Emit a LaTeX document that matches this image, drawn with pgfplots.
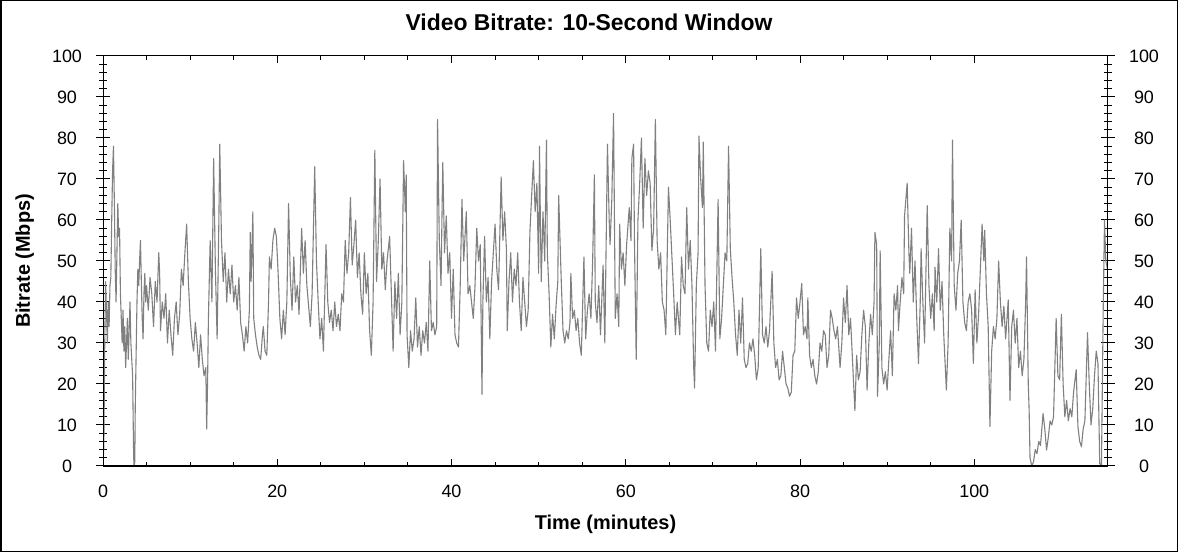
\documentclass[border=0pt]{standalone}
\usepackage{pgfplots}
\usepackage{pgfplotstable}
\pgfplotsset{compat=1.18}
\usepackage{fontspec}
\setmainfont{Liberation Sans}
\pgfplotstableread{
t v
0.00 0
0.10 5
0.20 30
0.30 45
0.40 38
0.50 30
0.60 40
0.70 34
0.80 44
0.90 46
1.00 60
1.10 72
1.20 78
1.30 65
1.40 48
1.50 40
1.60 52
1.70 64
1.80 56
1.90 58
2.00 42
2.10 36
2.20 30
2.30 38
2.40 28
2.50 34
2.60 24
2.70 30
2.80 36
2.90 26
3.00 33
3.10 40
3.20 30
3.30 26
3.40 22
3.50 5
3.55 0
3.65 1
3.70 14
3.80 27
3.90 40
4.00 48
4.10 44
4.20 50
4.30 55
4.40 45
4.50 36
4.60 31
4.70 42
4.80 47
4.90 40
5.00 44
5.20 38
5.40 46
5.60 42
5.80 34
6.00 45
6.20 40
6.40 52
6.50 47
6.60 33
6.80 40
7.00 36
7.20 42
7.40 30
7.60 38
7.80 32
8.00 27
8.20 36
8.40 40
8.60 32
8.80 37
9.00 48
9.20 44
9.40 52
9.60 59
9.80 45
10.00 36
10.20 31
10.40 28
10.60 35
10.80 30
11.00 24
11.20 32
11.40 26
11.60 22
11.80 24
11.90 9
12.00 20
12.10 36
12.30 55
12.50 40
12.70 75
12.90 48
13.10 31
13.30 60
13.40 78.5
13.60 55
13.80 45
14.00 52
14.20 40
14.40 48
14.60 42
14.80 49
15.00 40
15.20 44
15.40 38
15.60 46
15.80 35
16.00 32
16.20 28
16.40 34
16.60 30
16.80 38
16.90 57
17.00 45
17.20 62
17.30 36
17.50 32
17.70 29
17.90 27
18.10 26
18.30 32
18.40 34
18.60 28
18.80 27
19.00 40
19.10 51
19.30 48
19.50 55
19.70 58
19.90 56
20.10 47
20.30 36
20.50 31
20.70 38
20.90 32
21.10 40
21.30 64
21.50 46
21.70 38
21.90 51
22.10 40
22.30 44
22.50 37
22.80 58
23.00 47
23.20 55
23.40 44
23.60 39
23.80 34
24.00 42
24.30 73
24.50 50
24.70 40
24.90 31
25.10 36
25.30 28
25.60 54
25.80 40
26.00 35
26.20 38
26.40 33
26.60 40
26.80 34
27.00 37
27.20 33
27.40 42
27.60 40
27.80 55
28.00 47
28.20 52
28.40 65.5
28.60 49
28.80 54
29.00 60
29.20 46
29.40 52
29.60 42
29.80 37
30.00 52
30.20 42
30.40 47
30.60 33
30.80 27
31.00 40
31.20 77
31.40 45
31.60 55
31.80 70
32.00 48
32.20 52
32.40 43
32.60 50
32.90 56
33.10 42
33.30 28
33.50 45
33.70 36
33.90 47
34.10 32
34.30 40
34.50 74.5
34.70 62
34.80 71
34.90 32
35.10 24
35.30 33
35.50 28
35.70 31
35.90 41
36.10 29
36.30 34
36.50 27
36.70 33
36.90 30
37.10 35
37.30 28
37.50 50
37.70 33
37.90 35
38.10 32
38.30 34
38.40 84.5
38.60 55
38.80 44
38.90 60
39.00 74
39.20 52
39.40 61
39.60 47
39.80 52
40.00 36
40.20 48
40.40 32
40.60 30
40.80 29
41.00 44
41.20 65
41.40 50
41.70 62
41.90 42
42.10 44
42.30 40
42.50 36
42.70 44
42.90 58
43.10 50
43.30 54
43.50 17.5
43.60 40
43.80 56
44.00 40
44.20 46
44.40 31
44.60 45
44.80 52
45.00 59
45.20 48
45.40 43
45.70 70.5
45.90 55
46.10 62
46.30 53
46.40 33
46.60 45
46.80 52
47.00 40
47.20 48
47.40 44
47.60 52
47.80 40
48.00 33
48.20 46
48.40 40
48.60 34
48.80 38
49.00 57
49.20 66
49.40 74.5
49.60 62
49.80 69
50.00 47
50.10 78
50.20 60
50.30 45
50.50 62
50.70 50
50.90 79.5
51.00 52
51.20 42
51.40 29
51.60 37
51.80 31
52.00 39
52.20 45
52.30 66
52.50 52
52.60 45
52.80 33
53.00 30
53.20 33
53.40 31
53.60 35
53.70 47
53.90 36
54.10 38
54.30 33
54.50 36
54.70 30
54.90 27
55.20 51
55.40 31
55.60 38
55.80 42
56.00 36
56.20 50
56.40 71
56.50 40
56.70 35
56.90 44
57.10 32
57.40 49
57.60 30
57.90 78.5
58.10 60
58.20 54
58.40 65
58.60 86
58.80 36
59.00 42
59.20 34
59.30 59
59.50 48
59.70 52
59.90 44
60.10 54
60.40 63
60.60 55
60.70 75
60.90 78.5
61.00 55
61.20 26
61.40 60
61.60 69
61.80 80
62.00 58
62.20 75
62.40 66
62.60 72
62.80 69
63.00 52.5
63.20 58
63.40 84.5
63.60 55
63.80 48
64.00 52
64.20 40
64.40 38
64.60 32
64.90 68
65.10 60
65.30 51
65.50 42
65.70 32
65.90 40
66.20 32
66.40 51
66.60 44
66.80 42
67.00 63
67.20 48
67.40 55
67.60 44
67.80 24
67.90 19
68.10 44
68.30 52
68.40 80.5
68.60 70
68.80 63
68.90 79
69.10 44
69.30 30
69.50 28
69.70 38
69.90 34
70.10 40
70.30 28
70.60 65
70.80 31
71.00 36
71.20 44
71.40 52
71.60 50
71.80 78
72.00 53
72.20 46
72.40 40
72.60 32
72.80 27
73.00 38
73.20 30
73.40 41
73.60 26
73.80 24
74.00 25
74.20 30
74.40 28
74.60 31
74.80 27
75.00 21
75.20 24
75.50 53
75.70 32
75.90 30
76.10 34
76.30 29
76.50 33
76.80 47.5
77.00 30
77.20 24
77.40 26
77.60 21
77.80 22
78.00 28
78.20 24
78.40 20
78.60 19
78.80 17
79.00 18
79.20 27
79.40 28
79.60 41
79.80 36
80.00 40
80.20 44.5
80.40 32
80.60 34
80.80 31
80.90 41
81.10 27
81.30 24
81.50 26
81.70 22
81.90 20
82.10 23
82.30 30
82.50 28
82.70 33
82.90 32
83.10 24
83.30 27
83.50 38
83.70 36
83.90 33
84.10 31
84.30 34
84.60 24
84.80 30
85.00 41
85.20 35
85.40 44
85.60 32
85.80 36
86.00 27
86.30 13.5
86.50 27
86.70 21
86.90 23
87.10 32
87.30 38
87.50 34
87.70 18.5
87.90 30
88.10 37
88.30 32
88.50 40
88.60 57
88.80 54
88.90 17
89.10 30
89.20 52.5
89.40 24
89.60 20
89.80 23
90.00 18.5
90.20 26
90.40 33
90.60 22
90.80 42
91.00 38
91.20 44
91.30 33
91.50 40
91.70 46
91.90 42
92.00 61
92.30 69
92.50 52
92.60 47
92.80 58
93.00 40
93.20 50
93.40 36
93.60 25
93.80 40
93.90 53
94.10 40
94.30 30
94.60 63.5
94.80 44
95.00 36
95.20 42
95.40 33
95.50 48.5
95.70 40
95.90 53
96.10 38
96.30 45
96.50 32
96.80 18.5
97.00 30
97.20 58
97.40 50
97.50 79.5
97.70 44
97.90 38
98.10 47
98.30 50
98.50 60
98.70 40
98.90 35
99.10 33
99.30 40
99.50 42
99.70 38
99.90 25
100.10 43
100.30 30
100.50 37
100.70 48
100.90 59
101.10 50
101.20 57.5
101.40 42
101.60 34
101.80 9.6
102.00 28
102.20 34
102.40 31
102.60 36
102.80 50
103.00 40
103.20 34
103.40 39
103.60 31
103.90 40.5
104.10 16
104.30 34
104.50 38
104.70 30
104.90 36
105.10 24
105.30 28
105.50 22
105.70 26
105.90 40
106.00 51
106.20 20
106.30 13.5
106.40 2
106.60 0
106.80 1
107.00 4
107.20 3
107.40 6
107.60 5
107.90 12.8
108.10 9
108.30 3.9
108.50 7
108.70 11
108.90 10
109.10 12
109.40 36
109.60 22
109.80 21
110.00 37
110.20 20
110.40 12
110.60 16
110.80 11
111.00 14
111.20 12
111.40 18
111.70 23.5
111.90 9.6
112.10 6
112.30 4.7
112.50 9
112.70 11
113.00 32.5
113.20 20
113.40 10
113.60 14
113.80 22
114.00 28
114.20 25
114.40 0.6
114.60 0
114.80 38
114.95 60
115.10 50
115.30 48
}\bitrate
\begin{document}
\begin{tikzpicture}
\useasboundingbox (0,0) rectangle (1178bp,552bp);
\draw[line width=1.5bp] (0.75bp,0.75bp) rectangle (1177.25bp,551.25bp);
% main axis
\begin{axis}[
  at={(103bp,86bp)}, anchor=south west,
  scale only axis, width=1005bp, height=410bp,
  xmin=0, xmax=115.35, ymin=0, ymax=100,
  axis line style={line width=1bp},
  every tick/.style={line width=1bp, black},
  tick align=inside,
  major tick length=7bp, minor tick length=4bp,
  xtick={0,20,...,100}, minor x tick num=3,
  ytick={0,10,...,100}, minor y tick num=4,
  yticklabel pos=left,
  /pgf/number format/assume math mode=true,
  ticklabel style={font=\fontsize{18}{20}\selectfont},
  xticklabel style={anchor=center, yshift=-25.5bp},
  yticklabel style={anchor=center, xshift=-36bp},
  title={Video Bitrate: 10-Second Window},
  title style={font=\bfseries\fontsize{23}{26}\selectfont, at={(axis description cs:0.4836,1.0683)}, anchor=center},
  xlabel={Time (minutes)},
  xlabel style={font=\bfseries\fontsize{20}{22}\selectfont, at={(axis description cs:0.5,-0.1415)}, anchor=center},
  ylabel={Bitrate (Mbps)},
  ylabel style={font=\bfseries\fontsize{20}{22}\selectfont, at={(axis description cs:-0.078,0.5)}, anchor=center},
]
\addplot[color=gray, line width=1.1bp, line join=round] table[x=t, y=v] {\bitrate};
\end{axis}
% overlay axis: outside ticks and right labels
\begin{axis}[
  at={(103bp,86bp)}, anchor=south west,
  scale only axis, width=1005bp, height=410bp,
  xmin=0, xmax=115.35, ymin=0, ymax=100,
  axis line style={line width=1bp},
  every tick/.style={line width=1bp, black},
  tick align=outside,
  major tick length=7bp, minor tick length=3.8bp,
  xtick=\empty,
  minor xtick={5,10,15,25,30,35,45,50,55,65,70,75,85,90,95,105,110,115},
  xtick pos=left,
  ytick={0,10,...,100}, minor y tick num=4,
  ytick pos=both,
  yticklabel pos=right,
  /pgf/number format/assume math mode=true,
  ticklabel style={font=\fontsize{18}{20}\selectfont},
  yticklabel style={anchor=center, xshift=29bp},
]
\end{axis}
\end{tikzpicture}
\end{document}
